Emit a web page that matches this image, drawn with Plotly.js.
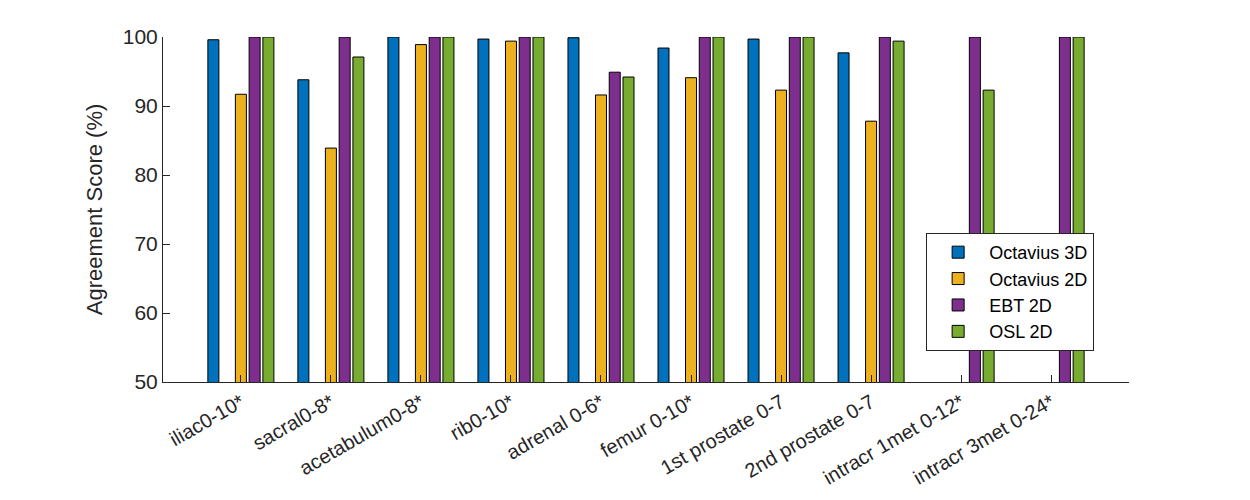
<!DOCTYPE html>
<html>
<head>
<meta charset="utf-8">
<script src="https://cdn.plot.ly/plotly-3.0.1.min.js"></script>
<style>
  html, body { margin: 0; padding: 0; background: #fff; }
  #chart { width: 1250px; height: 500px; }
</style>
</head>
<body>
<div id="chart"></div>
<script>
// ---- data ----
const sites = [
  'iliac0-10*', 'sacral0-8*', 'acetabulum0-8*', 'rib0-10*', 'adrenal 0-6*',
  'femur 0-10*', '1st prostate 0-7', '2nd prostate 0-7', 'intracr 1met 0-12*', 'intracr 3met 0-24*'
];
const octavius3D = [99.6, 93.8, 100, 99.7, 99.9, 98.4, 99.7, 97.7, null, null];
const emptySlot  = [null, null, null, null, null, null, null, null, null, null];
const octavius2D = [91.7, 83.9, 98.9, 99.4, 91.6, 94.1, 92.3, 87.8, null, null];
const ebt2D      = [100, 100, 100, 100, 94.9, 100, 100, 100, 100, 100];
const osl2D      = [100, 97.1, 100, 100, 94.2, 100, 100, 99.4, 92.3, 100];
const yTicks     = [50, 60, 70, 80, 90, 100];

const INK = '#262626';
const FONT = 'Liberation Sans, Arial, Helvetica, sans-serif';

// ---- traces (second slot left empty, as in the original grouping) ----
const series = [
  { name: 'Octavius 3D', y: octavius3D, color: '#0072BD', legend: true },
  { name: 'blank',       y: emptySlot,  color: '#ffffff', legend: false },
  { name: 'Octavius 2D', y: octavius2D, color: '#EDB120', legend: true },
  { name: 'EBT 2D',      y: ebt2D,      color: '#7E2F8E', legend: true },
  { name: 'OSL 2D',      y: osl2D,      color: '#77AC30', legend: true },
];

const traces = series.map(s => ({
  type: 'bar',
  name: s.name,
  x: sites,
  y: s.y,
  showlegend: s.legend,
  hoverinfo: s.legend ? 'x+y+name' : 'skip',
  marker: { color: s.color, line: { color: '#000', width: 1 } },
}));

const layout = {
  width: 1250,
  height: 500,
  paper_bgcolor: '#fff',
  plot_bgcolor: '#fff',
  margin: { l: 163, r: 121, t: 37, b: 118 },
  font: { family: FONT, size: 20, color: INK },
  barmode: 'group',
  bargap: 0.236,
  bargroupgap: 0.2,
  xaxis: {
    type: 'category',
    range: [-0.865, 9.865],
    showline: true,
    linecolor: INK,
    linewidth: 1,
    ticks: 'inside',
    ticklen: 7,
    tickcolor: INK,
    tickangle: -30,
    tickfont: { size: 20, color: INK },
    showgrid: false,
    zeroline: false,
  },
  yaxis: {
    range: [50, 100],
    tickvals: yTicks,
    showline: true,
    linecolor: INK,
    linewidth: 1,
    ticks: 'inside',
    ticklen: 7,
    tickcolor: INK,
    tickfont: { size: 21, color: INK },
    showgrid: false,
    zeroline: false,
    title: { text: 'Agreement Score (%)', font: { size: 22, color: INK }, standoff: 14 },
  },
  legend: {
    x: 0.79,
    y: 0.432,
    xanchor: 'left',
    yanchor: 'top',
    bgcolor: '#fff',
    bordercolor: INK,
    borderwidth: 1,
    itemwidth: 52,
    font: { size: 18, color: '#000' },
    tracegroupgap: 0,
    traceorder: 'normal',
  },
  showlegend: true,
};

Plotly.newPlot('chart', traces, layout, { displayModeBar: false, staticPlot: true });
</script>
</body>
</html>
